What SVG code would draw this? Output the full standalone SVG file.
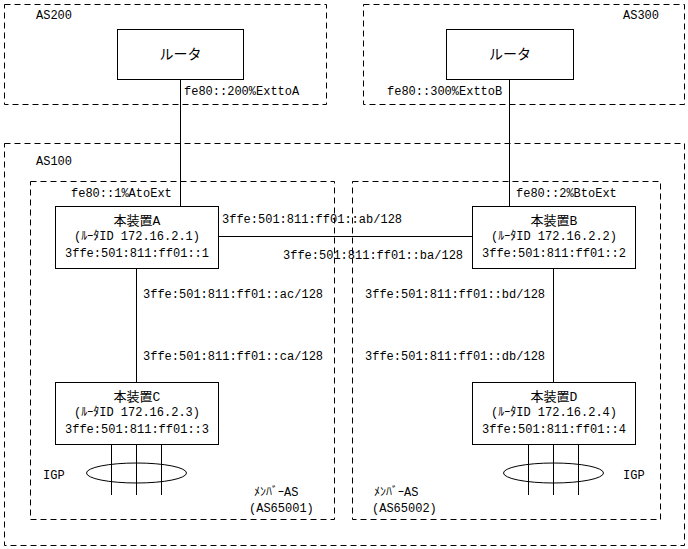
<svg xmlns="http://www.w3.org/2000/svg" width="688" height="549" viewBox="0 0 688 549">
<style>
text{font-family:"Liberation Mono","Noto Sans CJK JP",monospace;font-size:12px;fill:#000}
.c{text-anchor:middle}
.big{font-size:14px}
.t{font-size:13px}
.dash{fill:none;stroke:#000;stroke-width:1;stroke-dasharray:6,4}
.box{fill:#fff;stroke:#000;stroke-width:1}
.ln{stroke:#000;stroke-width:1;fill:none}
</style>
<rect width="688" height="549" fill="#fff"/>
<g id="as200">
<rect class="dash" x="4.5" y="4.5" width="322" height="100"/>
<text x="36" y="19">AS200</text>
</g>
<g id="as300">
<rect class="dash" x="363.5" y="4.5" width="321" height="100"/>
<text x="623" y="19">AS300</text>
</g>
<g id="as100">
<rect class="dash" x="4.5" y="143.5" width="680" height="402"/>
<text x="36" y="165">AS100</text>
</g>
<g id="as65001">
<rect class="dash" x="30.5" y="181.5" width="304" height="338"/>
<text x="254" y="496">ﾒﾝﾊﾞｰAS</text>
<text x="249" y="512">(AS65001)</text>
</g>
<g id="as65002">
<rect class="dash" x="352.5" y="181.5" width="308" height="338"/>
<text x="374" y="496">ﾒﾝﾊﾞｰAS</text>
<text x="372" y="512">(AS65002)</text>
</g>
<g id="connectors">
<line class="ln" x1="180.5" y1="79" x2="180.5" y2="206"/>
<line class="ln" x1="509.5" y1="79" x2="509.5" y2="206"/>
<line class="ln" x1="218" y1="236.5" x2="472" y2="236.5"/>
<line class="ln" x1="136.5" y1="268" x2="136.5" y2="382"/>
<line class="ln" x1="553.5" y1="268" x2="553.5" y2="382"/>
<text x="184" y="95">fe80::200%ExttoA</text>
<text x="387" y="95">fe80::300%ExttoB</text>
<text x="71" y="197">fe80::1%AtoExt</text>
<text x="516" y="197">fe80::2%BtoExt</text>
<text x="222" y="223">3ffe:501:811:ff01::ab/128</text>
<text x="283" y="259">3ffe:501:811:ff01::ba/128</text>
<text x="143" y="298">3ffe:501:811:ff01::ac/128</text>
<text x="143" y="360">3ffe:501:811:ff01::ca/128</text>
<text x="365" y="298">3ffe:501:811:ff01::bd/128</text>
<text x="365" y="360">3ffe:501:811:ff01::db/128</text>
</g>
<g id="router200">
<rect class="box" x="117.5" y="29.5" width="126" height="50"/>
<text class="c big" x="180.5" y="59">ルータ</text>
</g>
<g id="router300">
<rect class="box" x="446.5" y="29.5" width="127" height="50"/>
<text class="c big" x="510" y="59">ルータ</text>
</g>
<g id="nodeA">
<rect class="box" x="55.5" y="206.5" width="163" height="62"/>
<text class="c t" x="137" y="225">本装置A</text>
<text class="c" x="137" y="240">(ﾙｰﾀID 172.16.2.1)</text>
<text class="c" x="137" y="257">3ffe:501:811:ff01::1</text>
</g>
<g id="nodeB">
<rect class="box" x="472.5" y="206.5" width="163" height="62"/>
<text class="c t" x="554" y="225">本装置B</text>
<text class="c" x="554" y="240">(ﾙｰﾀID 172.16.2.2)</text>
<text class="c" x="554" y="257">3ffe:501:811:ff01::2</text>
</g>
<g id="nodeC">
<rect class="box" x="55.5" y="382.5" width="163" height="62"/>
<text class="c t" x="137" y="401">本装置C</text>
<text class="c" x="137" y="416">(ﾙｰﾀID 172.16.2.3)</text>
<text class="c" x="137" y="433">3ffe:501:811:ff01::3</text>
</g>
<g id="nodeD">
<rect class="box" x="472.5" y="382.5" width="163" height="62"/>
<text class="c t" x="554" y="401">本装置D</text>
<text class="c" x="554" y="416">(ﾙｰﾀID 172.16.2.4)</text>
<text class="c" x="554" y="433">3ffe:501:811:ff01::4</text>
</g>
<g id="igpC">
<ellipse class="ln" cx="136.5" cy="473" rx="50" ry="10"/>
<line class="ln" x1="111.5" y1="445" x2="111.5" y2="495"/>
<line class="ln" x1="136.5" y1="445" x2="136.5" y2="495"/>
<line class="ln" x1="161.5" y1="445" x2="161.5" y2="495"/>
<text x="43" y="479">IGP</text>
</g>
<g id="igpD">
<ellipse class="ln" cx="553.5" cy="473" rx="50" ry="10"/>
<line class="ln" x1="528.5" y1="445" x2="528.5" y2="495"/>
<line class="ln" x1="553.5" y1="445" x2="553.5" y2="495"/>
<line class="ln" x1="578.5" y1="445" x2="578.5" y2="495"/>
<text x="623" y="479">IGP</text>
</g>
</svg>
